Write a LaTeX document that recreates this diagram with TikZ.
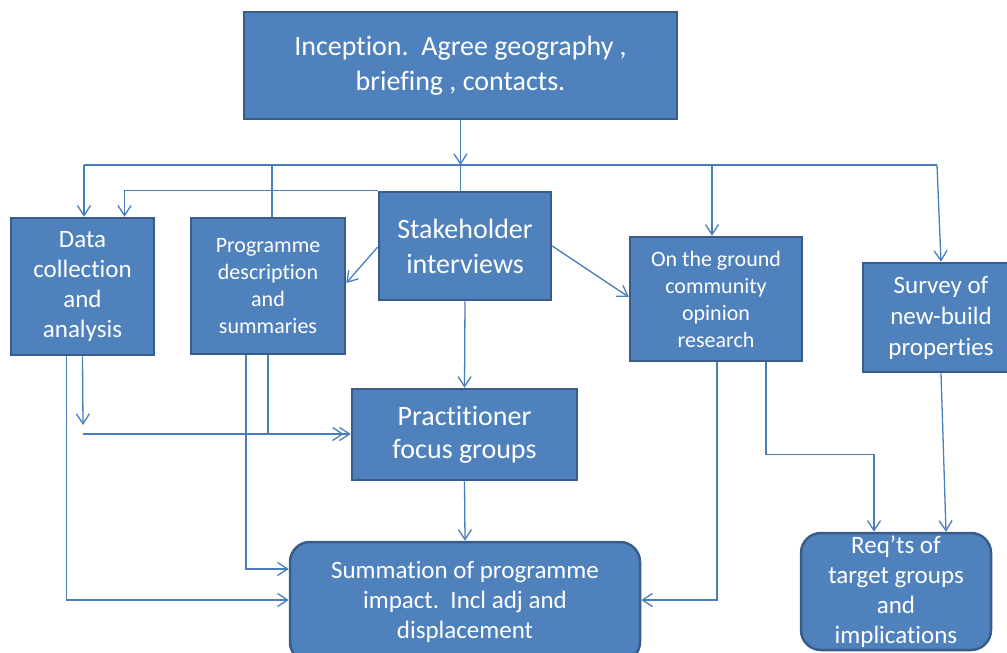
\documentclass[tikz,border=0pt]{standalone}
\usepackage{fontspec}
\setmainfont{Carlito}[Ligatures={NoCommon}]
\usetikzlibrary{arrows.meta}
\definecolor{boxfill}{HTML}{4F81BD}
\definecolor{boxline}{HTML}{385D8A}
\definecolor{linkcol}{HTML}{4A7EBB}

\begin{document}
\begin{tikzpicture}[
        x=1pt, y=-1pt,
        box/.style={draw=boxline, fill=boxfill, line width=2.5pt, text=white, align=center, inner sep=0pt},
        rbox/.style={box, rounded corners=20pt},
        fs/.style 2 args={font=\fontsize{#1}{#2}\selectfont},
        link/.style={draw=linkcol, line width=1.3pt},
        arr/.style={link, -{Straight Barb[length=10pt, width=13pt]}}
    ]
        \useasboundingbox (0,0) rectangle (1007,653);

        % boxes
        \node[box, fs={28}{35}, minimum width=433pt, minimum height=107pt] (incep) at (460.5,65.5) {Inception.\ \ Agree geography ,\\briefing , contacts.};
        \node[box, fs={28}{35}, minimum width=172pt, minimum height=108pt] (stake) at (465,246) {Stakeholder\\interviews};
        \node[box, fs={25}{30}, minimum width=143pt, minimum height=137pt] (data) at (82.5,286.5) {Data\\collection\\and\\analysis};
        \node[box, fs={22}{27}, minimum width=154pt, minimum height=136pt] (prog) at (268,286) {Programme\\description\\and\\summaries};
        \node[box, fs={22}{27}, minimum width=172pt, minimum height=124pt] (ground) at (716,299) {On the ground\\community\\opinion\\research};
        \node[box, fs={25}{31}, minimum width=156pt, minimum height=109pt] (survey) at (941,317.5) {Survey of\\new-build\\properties};
        \node[box, fs={28}{33}, minimum width=225pt, minimum height=91pt] (pract) at (464.5,434.5) {Practitioner\\focus groups};
        \node[rbox, fs={25}{30}, minimum width=350pt, minimum height=120pt] (summ) at (465,602) {Summation of programme\\impact.\ \ Incl adj and\\displacement};
        \node[rbox, fs={25}{30}, minimum width=190pt, minimum height=117pt] (reqts) at (896,591.5) {Req’ts of\\target groups\\and\\implications};

        % distribution line under the inception box
        \coordinate (busL) at (84,165);
        \coordinate (busR) at (937,165);
        \draw[link] (busL) -- (busR);
        \draw[arr] (incep.south) -- (incep.south |- busL);
        \draw[link] (incep.south |- busL) -- (incep.south |- stake.north);
        \draw[arr] (busL) -- (busL |- data.north);
        \draw[link] ([xshift=4pt]prog.north |- busL) -- ([xshift=4pt]prog.north);
        \draw[arr] ([xshift=-4pt]ground.north |- busL) -- ([xshift=-4pt]ground.north);
        \draw[arr] (busR) -- (survey.north);

        % from the stakeholder interviews
        \draw[arr] (stake.north west) -| ([xshift=42pt]data.north);
        \draw[arr] ([yshift=-1pt]stake.west) -- ([yshift=3pt]prog.east);
        \draw[arr] (stake.east) -- ([yshift=2pt]ground.west);
        \draw[arr] (stake.south) -- (pract.north);

        % into the focus groups
        \coordinate (dataDrop) at (83,425);
        \coordinate (joinL) at (83,434);
        \draw[arr] (data.south) -- (dataDrop);
        \draw[arr] (joinL) -- (pract.west |- joinL);
        \draw[arr, shorten >=7pt] (prog.south) -- (prog.south |- joinL) -- (pract.west |- joinL);

        % into the summation
        \draw[arr] ([xshift=-16pt]data.south) |- ([yshift=2pt]summ.west);
        \draw[arr] ([xshift=-22pt]prog.south) |- ([yshift=33pt]summ.west);
        \draw[arr] (pract.south) -- (summ.north);
        \draw[arr] ([xshift=1pt]ground.south) |- ([yshift=2pt]summ.east);

        % into the requirements
        \draw[arr] ([xshift=50pt]ground.south) -- ++(0,92) -| ([xshift=-22pt]reqts.north);
        \draw[arr] (survey.south) -- ([xshift=50pt]reqts.north);
\end{tikzpicture}
\end{document}
